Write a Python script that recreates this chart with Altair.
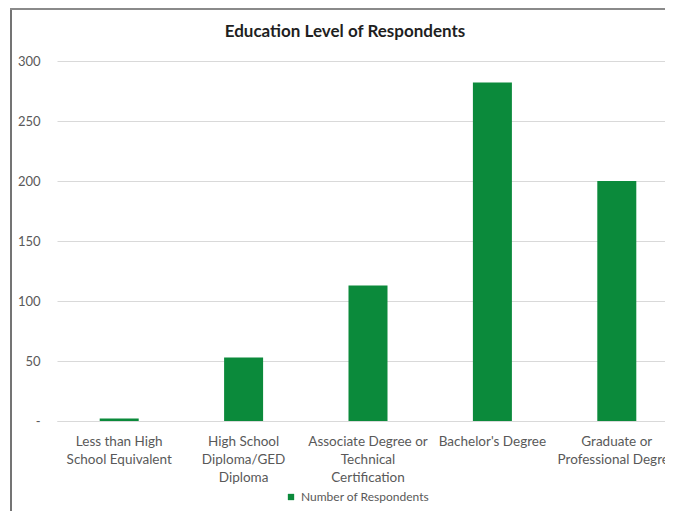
import altair as alt
import pandas as pd

# ---- data ----
categories = [
    "Less than High|School Equivalent",
    "High School|Diploma/GED|Diploma",
    "Associate Degree or|Technical|Certification",
    "Bachelor's Degree",
    "Graduate or|Professional Degree",
]
respondents = [2, 53, 113, 282, 200]
series_name = "Number of Respondents"
y_ticks = [0, 50, 100, 150, 200, 250, 300]
title_text = "Education Level of Respondents"

GREEN = "#0B8A3B"
GRID = "#D9D9D9"
TEXT = "#595959"
FONT = "Lato"

df = pd.DataFrame({
    "category": categories,
    "respondents": respondents,
    "series": [series_name] * len(categories),
})

bars = alt.Chart(df).mark_bar(size=39).encode(
    x=alt.X(
        "category:N",
        sort=None,
        scale=alt.Scale(range=[0, 622], paddingInner=0, paddingOuter=0),
        axis=alt.Axis(
            title=None,
            labelAngle=0,
            labelExpr="split(datum.label, '|')",
            ticks=False,
            domainColor=GRID,
            domainWidth=1,
            labelFont=FONT,
            labelFontSize=13.5,
            labelColor=TEXT,
            labelPadding=13,
            labelLineHeight=18.3,
            labelBaseline="top",
            labelLimit=300,
        ),
    ),
    y=alt.Y(
        "respondents:Q",
        scale=alt.Scale(domain=[0, 300], nice=False),
        axis=alt.Axis(
            title=None,
            values=y_ticks,
            grid=True,
            gridColor=GRID,
            gridWidth=1,
            domain=False,
            ticks=False,
            labelExpr="datum.value == 0 ? '-\u2007' : datum.label",
            labelFont=FONT,
            labelFontSize=13,
            labelColor=TEXT,
            labelPadding=17,
        ),
    ),
    color=alt.Color(
        "series:N",
        scale=alt.Scale(range=[GREEN]),
        legend=alt.Legend(
            title=None,
            orient="none",
            legendX=228,
            legendY=430,
            symbolType="square",
            symbolSize=40,
            symbolStrokeWidth=0,
            labelFont=FONT,
            labelFontSize=12,
            labelColor=TEXT,
            padding=0,
            labelOffset=4,
        ),
    ),
)

deco_src = alt.Data(values=[{"k": 1}])
left_border = alt.Chart(deco_src).mark_rule(color="#747474", strokeWidth=2).encode(
    x=alt.value(-46), y=alt.value(-53), y2=alt.value(470)
)
top_border = alt.Chart(deco_src).mark_rule(color="#8A8A8A", strokeWidth=2).encode(
    x=alt.value(-47), x2=alt.value(700), y=alt.value(-52)
)
title = alt.Chart(deco_src).mark_text(
    text=title_text,
    font=FONT,
    fontSize=17,
    fontWeight="bold",
    color="#1F1F1F",
    align="center",
    baseline="middle",
).encode(x=alt.value(288), y=alt.value(-29))

chart = (
    alt.layer(left_border, top_border, title, bars)
    .properties(
        width=608,
        height=360,
        autosize=alt.AutoSizeParams(type="none"),
        padding={"left": 49, "top": 53, "right": 0, "bottom": 90},
        background="white",
    )
    .configure_view(stroke=None)
)

chart.save("out.html", embed_options={"renderer": "svg", "actions": False})
